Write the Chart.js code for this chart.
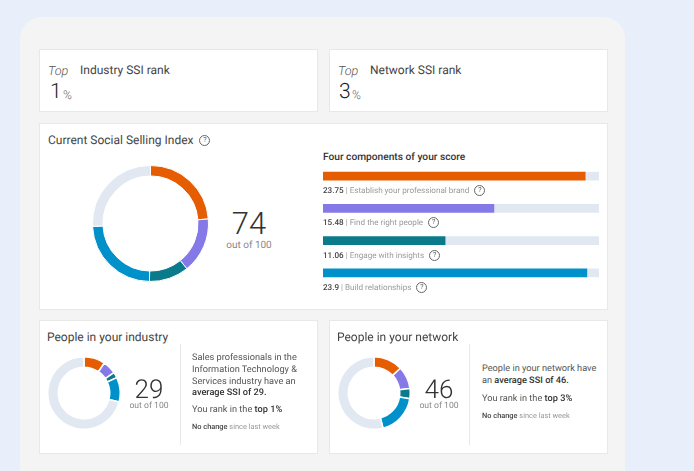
<!DOCTYPE html>
<html lang="en">
<head>
    <meta charset="UTF-8">
    <title>Social Selling Index</title>
    <script src="https://cdn.jsdelivr.net/npm/chart.js"></script>
    <style>
        html, body { margin: 0; padding: 0; }
        body {
            width: 694px;
            height: 471px;
            overflow: hidden;
            position: relative;
            background-color: #e8effb;
            font-family: Roboto, "Open Sans", sans-serif;
            color: #4a4a4a;
            text-rendering: geometricPrecision;
        }
        .panel {
            position: absolute;
            left: 20px; top: 17px;
            width: 605px; height: 480px;
            background-color: #f4f4f4;
            border-radius: 22px;
        }
        .card {
            position: absolute;
            background-color: #fff;
            border: 1px solid #e8e8e8;
            box-sizing: border-box;
        }
        .t { position: absolute; white-space: nowrap; }
        canvas { position: absolute; }
        .top { font-size: 12.6px; line-height: 16px; font-style: italic; font-weight: 300; color: #555; }
        .rank { font-size: 12px; line-height: 16px; color: #444; }
        .big { font-size: 21px; line-height: 22px; font-weight: 300; color: #222; }
        .pct { font-size: 12px; line-height: 14px; font-weight: 300; color: #666; }
        .title { font-size: 12px; line-height: 16px; color: #444; }
        .score { font-size: 31px; line-height: 26px; font-weight: 300; color: #333; text-align: center; width: 60px; }
        .score.sm { font-size: 26px; line-height: 20px; }
        .outof { font-size: 10px; line-height: 12px; color: #888; text-align: center; width: 60px; }
        .outof.sm { font-size: 8.6px; line-height: 11px; }
        .comp { font-size: 8.1px; line-height: 12px; color: #999; }
        .comp b { color: #444; font-weight: 500; }
        .info { font-size: 9.2px; line-height: 11.8px; color: #555; }
        .info b { color: #333; font-weight: 500; }
        .small { font-size: 7.4px; line-height: 10px; color: #999; }
        .small b { color: #444; font-weight: 500; }
        .q {
            display: inline-block;
            width: 9px; height: 9px;
            border: 1px solid #666;
            border-radius: 50%;
            margin-left: 3px;
            font-size: 7px;
            line-height: 9px;
            text-align: center;
            color: #555;
            vertical-align: middle;
        }
        .rule { position: absolute; width: 1px; background-color: #e8e8e8; }
    </style>
</head>
<body>
    <div class="panel"></div>

    <div class="card" style="left:39px; top:49px; width:279px; height:63px;"></div>
    <div class="t top" style="left:48px; top:64px;">Top</div>
    <div class="t rank" style="left:80px; top:62px;">Industry SSI rank</div>
    <div class="t big" style="left:50px; top:81px;">1</div>
    <div class="t pct" style="left:63px; top:88px;">%</div>

    <div class="card" style="left:329px; top:49px; width:279px; height:63px;"></div>
    <div class="t top" style="left:338px; top:64px;">Top</div>
    <div class="t rank" style="left:370px; top:62px;">Network SSI rank</div>
    <div class="t big" style="left:339px; top:81px;">3</div>
    <div class="t pct" style="left:352px; top:88px;">%</div>

    <div class="card" style="left:39px; top:123px; width:569px; height:187px;"></div>
    <div class="t title" style="left:48px; top:132px;">Current Social Selling Index <span class="q" style="margin-left:3px;">?</span></div>
    <canvas id="mainDoughnut" style="left:92px; top:165px;"></canvas>
    <div class="t score" style="left:219px; top:211px;">74</div>
    <div class="t outof" style="left:219px; top:240px;">out of 100</div>

    <div class="t" style="left:323px; top:151px; font-size:10.2px; line-height:13px; font-weight:500; color:#333;">Four components of your score</div>
    <canvas id="componentBars" style="left:323px; top:160px;"></canvas>
    <div class="t comp" style="left:323px; top:184px;"><b>23.75</b> | Establish your professional brand <span class="q">?</span></div>
    <div class="t comp" style="left:323px; top:216px;"><b>15.48</b> | Find the right people <span class="q">?</span></div>
    <div class="t comp" style="left:323px; top:249px;"><b>11.06</b> | Engage with insights <span class="q">?</span></div>
    <div class="t comp" style="left:323px; top:281px;"><b>23.9</b> | Build relationships <span class="q">?</span></div>

    <div class="card" style="left:39px; top:320px; width:279px; height:134px;"></div>
    <div class="t title" style="left:47px; top:329px;">People in your industry</div>
    <canvas id="industryDoughnut" style="left:47px; top:356px;"></canvas>
    <div class="t score sm" style="left:119px; top:380px;">29</div>
    <div class="t outof sm" style="left:119px; top:401px;">out of 100</div>
    <div class="rule" style="left:180px; top:344px; height:101px;"></div>
    <div class="t info" style="left:192px; top:352px;">Sales professionals in the<br>Information Technology &amp;<br>Services industry have an<br><b>average SSI of 29.</b></div>
    <div class="t info" style="left:192px; top:404px;">You rank in the <b>top 1%</b></div>
    <div class="t small" style="left:192px; top:422px;"><b>No change</b> since last week</div>

    <div class="card" style="left:329px; top:320px; width:279px; height:134px;"></div>
    <div class="t title" style="left:337px; top:329px;">People in your network</div>
    <canvas id="networkDoughnut" style="left:337px; top:356px;"></canvas>
    <div class="t score sm" style="left:409px; top:380px;">46</div>
    <div class="t outof sm" style="left:409px; top:401px;">out of 100</div>
    <div class="rule" style="left:469px; top:344px; height:101px;"></div>
    <div class="t info" style="left:482px; top:363px;">People in your network have<br>an <b>average SSI of 46.</b></div>
    <div class="t info" style="left:482px; top:393px;">You rank in the <b>top 3%</b></div>
    <div class="t small" style="left:482px; top:411px;"><b>No change</b> since last week</div>

    <script>
        const components = ['Establish your professional brand', 'Find the right people', 'Engage with insights', 'Build relationships'];
        const componentScores = [23.75, 15.48, 11.06, 23.9];
        const componentLeft = [1.25, 9.52, 13.94, 1.1];   // what is left out of 25 per component
        const mainRest = [25.81];

        const segmentNames = ['Brand', 'People', 'Insights', 'Relationships', 'Rest'];
        const industryValues = [9.5, 6, 2.5, 11, 71];
        const networkValues = [13, 10, 4.5, 18.5, 54];

        const colours = ['#e65c00', '#8579e8', '#0b7a8a', '#0091ca'];
        const track = '#e1e8f2';

        function sizeCanvas(id, w, h) {
            const c = document.getElementById(id);
            c.width = w; c.height = h;
            c.style.width = w + 'px';
            c.style.height = h + 'px';
            return c;
        }

        function doughnut(id, size, values, cutout, gap) {
            return new Chart(sizeCanvas(id, size, size), {
                type: 'doughnut',
                data: {
                    labels: segmentNames,
                    datasets: [{
                        data: values,
                        backgroundColor: [...colours, track],
                        borderColor: '#fff',
                        borderWidth: gap
                    }]
                },
                options: {
                    responsive: false,
                    animation: false,
                    cutout: cutout,
                    plugins: { legend: { display: false }, tooltip: { enabled: false } }
                }
            });
        }

        doughnut('mainDoughnut', 117, [...componentScores, ...mainRest], '82%', 1);
        doughnut('industryDoughnut', 74, industryValues, '71%', 1.5);
        doughnut('networkDoughnut', 74, networkValues, '71%', 1.5);

        new Chart(sizeCanvas('componentBars', 276, 129), {
            type: 'bar',
            data: {
                labels: components,
                datasets: [
                    { data: componentScores, backgroundColor: colours, barThickness: 8 },
                    { data: componentLeft, backgroundColor: track, barThickness: 8 }
                ]
            },
            options: {
                indexAxis: 'y',
                responsive: false,
                animation: false,
                scales: {
                    x: { stacked: true, min: 0, max: 25, display: false },
                    y: { stacked: true, display: false }
                },
                plugins: { legend: { display: false }, tooltip: { enabled: false } }
            }
        });
    </script>
</body>
</html>
